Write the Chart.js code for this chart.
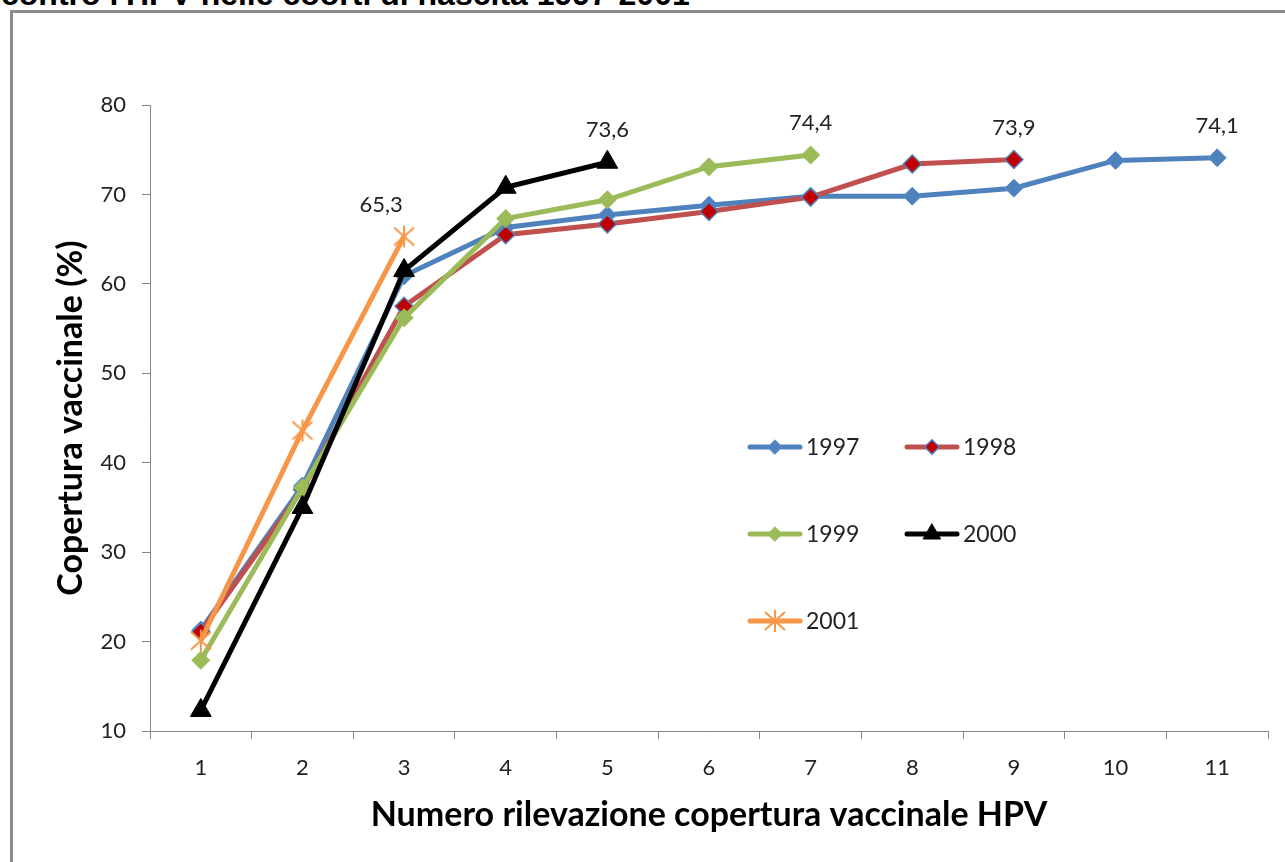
<!DOCTYPE html>
<html lang="it">
<head>
    <meta charset="UTF-8">
    <title>Copertura vaccinale HPV</title>
    <script src="https://cdn.jsdelivr.net/npm/chart.js"></script>
    <style>
        body { margin: 0; background: #fff; width: 1285px; height: 862px; overflow: hidden; position: relative; }
        #title { position: absolute; left: 1px; top: -22px; font: bold 32px "Liberation Sans", Arial, sans-serif; line-height: 32px; color: #000; white-space: nowrap; }
        #frame { position: absolute; left: 10px; top: 10px; width: 1400px; height: 1000px; border: 3px solid #8c8c8c; }
        #chart { position: absolute; left: 0; top: 0; }
    </style>
</head>
<body>
    <div id="title">contro l'HPV nelle coorti di nascita 1997-2001</div>
    <div id="frame"></div>
    <canvas id="chart" width="1285" height="862"></canvas>

    <script>
        // dati
        const rilevazioni = ['1', '2', '3', '4', '5', '6', '7', '8', '9', '10', '11'];
        const coorti = ['1997', '1998', '1999', '2000', '2001'];
        const cov1997 = [21.3, 37.4, 60.9, 66.3, 67.7, 68.8, 69.8, 69.8, 70.7, 73.8, 74.1];
        const cov1998 = [21.1, 37.0, 57.5, 65.5, 66.7, 68.1, 69.7, 73.4, 73.9];
        const cov1999 = [17.9, 37.2, 56.2, 67.3, 69.4, 73.1, 74.4];
        const cov2000 = [12.3, 35.0, 61.5, 70.8, 73.6];
        const cov2001 = [20.1, 43.6, 65.3];
        const yTicks = [10, 20, 30, 40, 50, 60, 70, 80];

        const FONT = 'Lato, "Open Sans", sans-serif';

        // marcatore asterisco (stile Excel)
        function makeStar(color) {
            const c = document.createElement('canvas');
            c.width = 24; c.height = 24;
            const g = c.getContext('2d');
            g.strokeStyle = color;
            g.lineWidth = 2;
            g.beginPath();
            g.moveTo(12, 1); g.lineTo(12, 23);
            g.moveTo(2, 3); g.lineTo(22, 21);
            g.moveTo(22, 3); g.lineTo(2, 21);
            g.stroke();
            return c;
        }
        const star = makeStar('#F79646');

        const datasets = [
            { label: coorti[0], data: cov1997, borderColor: '#4F81BD', backgroundColor: '#4F81BD',
              pointStyle: 'rectRot', pointRadius: 9, pointBorderColor: '#5B8FD0', pointBorderWidth: 1, order: 5 },
            { label: coorti[1], data: cov1998, borderColor: '#C0504D', backgroundColor: '#C00000',
              pointStyle: 'rectRot', pointRadius: 9, pointBorderColor: '#4F81BD', pointBorderWidth: 1.5, order: 4 },
            { label: coorti[2], data: cov1999, borderColor: '#9BBB59', backgroundColor: '#9BBB59',
              pointStyle: 'rectRot', pointRadius: 9, pointBorderColor: '#9BBB59', pointBorderWidth: 1, order: 3 },
            { label: coorti[3], data: cov2000, borderColor: '#000000', backgroundColor: '#000000',
              pointStyle: 'triangle', pointRadius: 12, pointBorderColor: '#000000', pointBorderWidth: 1, order: 2 },
            { label: coorti[4], data: cov2001, borderColor: '#F79646', backgroundColor: '#F79646',
              pointStyle: star, pointRadius: 12, pointBorderColor: '#F79646', pointBorderWidth: 1, order: 1 }
        ].map(d => Object.assign({ borderWidth: 5, tension: 0, fill: false, clip: false }, d));

        // etichette sull'ultimo punto di ogni serie
        const lastLabels = {
            id: 'lastLabels',
            afterDatasetsDraw(chart) {
                const ctx = chart.ctx;
                ctx.save();
                ctx.font = '22px ' + FONT;
                ctx.fillStyle = '#222';
                ctx.textAlign = 'center';
                ctx.textBaseline = 'middle';
                chart.data.datasets.forEach((ds, i) => {
                    const meta = chart.getDatasetMeta(i);
                    const pt = meta.data[meta.data.length - 1];
                    const v = ds.data[ds.data.length - 1];
                    const dx = ds.label === '2001' ? -23 : 0;
                    ctx.fillText(v.toFixed(1).replace('.', ','), pt.x + dx, pt.y - 32);
                });
                ctx.restore();
            }
        };

        // legenda dentro l'area del grafico, su due colonne
        const insideLegend = {
            id: 'insideLegend',
            afterDraw(chart) {
                const ctx = chart.ctx;
                const colX = [748, 905];
                const rowY = [447, 534, 621];
                ctx.save();
                chart.data.datasets.forEach((ds, i) => {
                    const x = colX[i % 2], y = rowY[Math.floor(i / 2)];
                    ctx.strokeStyle = ds.borderColor;
                    ctx.lineWidth = ds.borderWidth;
                    ctx.lineCap = 'round';
                    ctx.beginPath();
                    ctx.moveTo(x + 2, y); ctx.lineTo(x + 52, y);
                    ctx.stroke();
                    ctx.fillStyle = ds.backgroundColor;
                    ctx.strokeStyle = ds.pointBorderColor;
                    ctx.lineWidth = ds.pointBorderWidth;
                    const r = ds.pointStyle === 'triangle' ? 10 : ds.pointRadius * 0.8;
                    Chart.helpers.drawPoint(ctx, { pointStyle: ds.pointStyle, radius: r, rotation: 0, borderWidth: ds.pointBorderWidth }, x + 27, y);
                    ctx.fillStyle = '#222';
                    ctx.font = '23px ' + FONT;
                    ctx.textAlign = 'left';
                    ctx.textBaseline = 'middle';
                    ctx.fillText(ds.label, x + 58, y + 1);
                });
                ctx.restore();
            }
        };

        new Chart(document.getElementById('chart'), {
            type: 'line',
            data: { labels: rilevazioni, datasets: datasets },
            plugins: [lastLabels, insideLegend],
            options: {
                responsive: false,
                animation: false,
                events: [],
                layout: { padding: { left: 0, top: 105, right: 17, bottom: 0 } },
                plugins: { legend: { display: false }, tooltip: { enabled: false } },
                scales: {
                    x: {
                        offset: true,
                        grid: { offset: true, drawOnChartArea: false, tickLength: 8, color: '#868686' },
                        border: { color: '#868686', width: 1 },
                        ticks: { color: '#222', font: { family: FONT, size: 22 }, padding: 16, maxRotation: 0 },
                        title: { display: true, text: 'Numero rilevazione copertura vaccinale HPV', color: '#000',
                                 font: { family: FONT, size: 34, weight: 'bold' }, padding: { top: 0, bottom: 27 } },
                        afterFit(scale) { scale.height = 131; }
                    },
                    y: {
                        min: 10, max: 80,
                        afterBuildTicks(scale) { scale.ticks = yTicks.map(v => ({ value: v })); },
                        grid: { drawOnChartArea: false, tickLength: 8, color: '#868686' },
                        border: { color: '#868686', width: 1 },
                        ticks: { color: '#222', font: { family: FONT, size: 22 }, padding: 16 },
                        title: { display: true, text: 'Copertura vaccinale (%)', color: '#000',
                                 font: { family: FONT, size: 34, weight: 'bold' }, padding: { top: 51, bottom: 0 } },
                        afterFit(scale) { scale.width = 150; }
                    }
                }
            }
        });
    </script>
</body>
</html>
